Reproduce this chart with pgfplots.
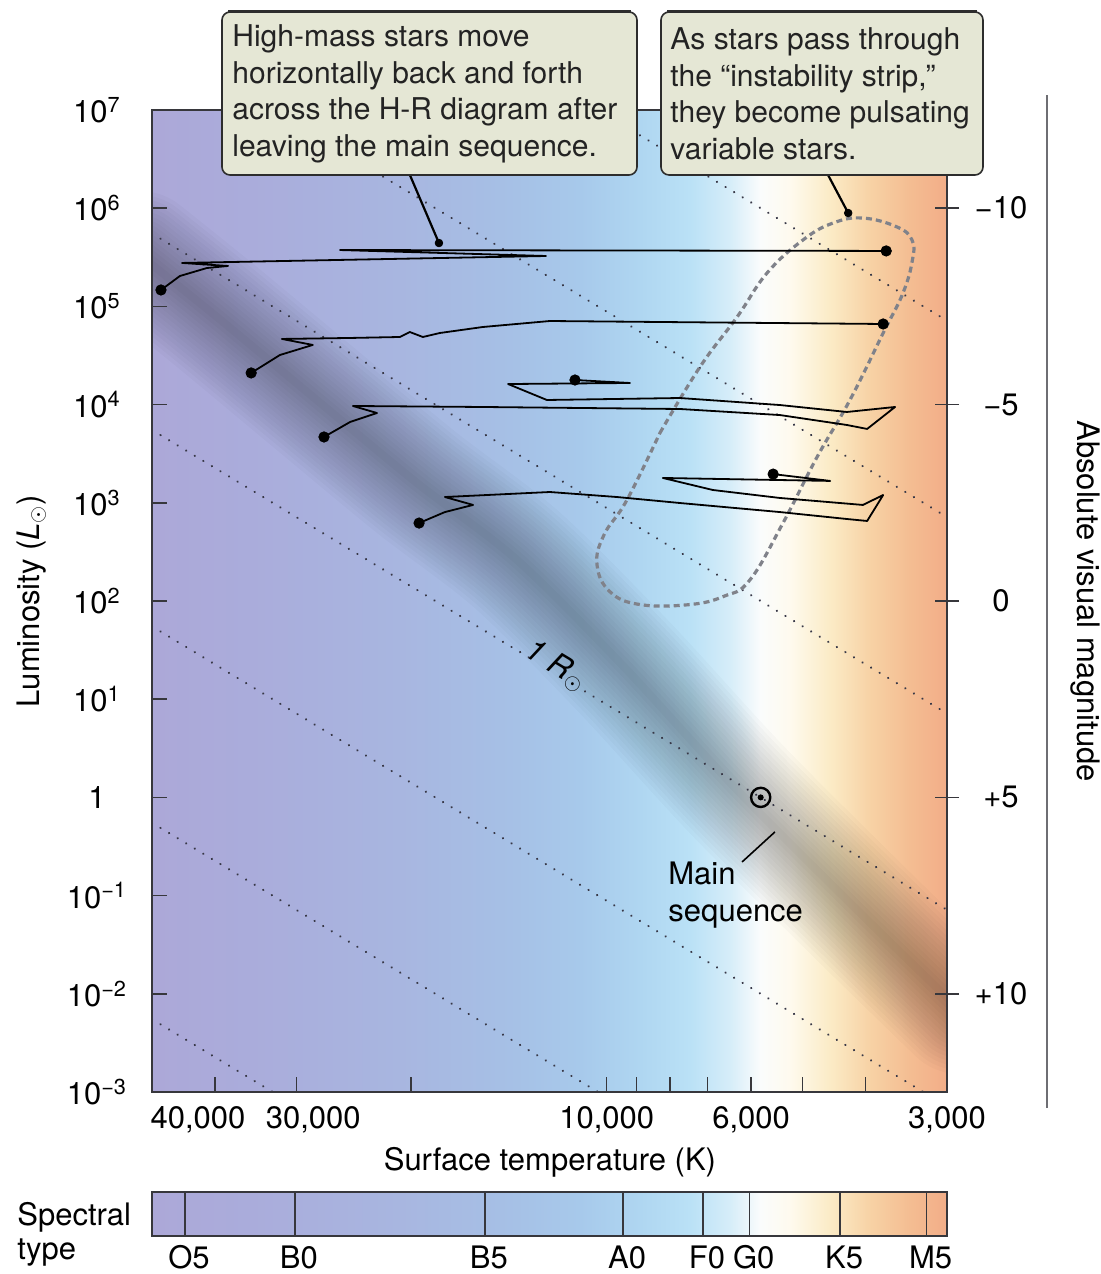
\documentclass[border=0pt]{standalone}
\usepackage{pgfplots}
\usepackage{pgfplotstable}
\pgfplotsset{compat=1.18}
\usepackage{fontspec}
\setmainfont{TeX Gyre Heros}
\newcommand\fs{\fontsize{15.5pt}{18.6pt}\selectfont}
\newcommand\fb{\fontsize{15pt}{18.25pt}\selectfont}
\definecolor{axisgray}{RGB}{55,55,60}
\definecolor{boxfill}{RGB}{229,231,213}
\definecolor{boxborder}{RGB}{45,45,45}
\definecolor{dotgray}{RGB}{55,55,70}
\definecolor{stripgray}{RGB}{128,130,138}
\definecolor{hrA}{RGB}{172,168,216}
\definecolor{hrB}{RGB}{170,172,219}
\definecolor{hrC}{RGB}{168,182,224}
\definecolor{hrD}{RGB}{166,191,229}
\definecolor{hrE}{RGB}{167,201,235}
\definecolor{hrF}{RGB}{175,214,241}
\definecolor{hrG}{RGB}{186,225,246}
\definecolor{hrH}{RGB}{214,237,249}
\definecolor{hrI}{RGB}{250,252,252}
\definecolor{hrJ}{RGB}{254,250,238}
\definecolor{hrK}{RGB}{251,235,198}
\definecolor{hrL}{RGB}{247,210,165}
\definecolor{hrM}{RGB}{244,189,146}
\definecolor{hrN}{RGB}{242,173,136}
\pgfdeclarehorizontalshading{hrbg}{100bp}{color(0bp)=(hrA); color(25bp)=(hrA); color(31.15bp)=(hrB); color(40.6bp)=(hrC); color(46.9bp)=(hrD); color(51.9bp)=(hrE); color(55.7bp)=(hrF); color(58.85bp)=(hrG); color(61.35bp)=(hrH); color(63.25bp)=(hrI); color(65.15bp)=(hrJ); color(67.65bp)=(hrK); color(70.15bp)=(hrL); color(72.65bp)=(hrM); color(75bp)=(hrN); color(100bp)=(hrN)}

\pgfplotstableread{
T L
52170 3.33e5
39730 7.80e4
27890 1.11e4
19570 1590
13740 262
9405 21.3
6305 1.19
4020 0.0605
2865 0.00684
}\bandtab

\pgfplotsset{
  radius/.style={dotgray, line width=1.2pt, dash pattern=on 0.01pt off 4.99pt, line cap=round},
  track/.style={black, line width=0.9pt, line join=round},
  band/.style={black, opacity=0.02, line cap=round, line join=round, smooth},
}

\begin{document}
\begin{tikzpicture}
\path[use as bounding box] (-76pt,-91pt) rectangle (474.5pt,546pt);
\begin{axis}[
  at={(0pt,0pt)}, anchor=south west,
  width=397.5pt, height=491pt, scale only axis,
  xmode=log, ymode=log,
  xmin=3000, xmax=50000, ymin=1e-3, ymax=1e7,
  x dir=reverse,
  axis on top,
  axis line style={draw=axisgray, line width=0.75pt},
  xtick={40000,30000,20000,10000,9000,8000,7000,6000,5000,4000,3000},
  xticklabels={{\hspace*{-17pt}40,000},{\hspace*{17pt}30,000},{},{10,000},{},{},{},{6,000},{},{},{3,000}},
  ytick={1e-3,1e-2,1e-1,1,1e1,1e2,1e3,1e4,1e5,1e6,1e7},
  yticklabels={10\textsuperscript{−3},10\textsuperscript{−2},10\textsuperscript{−1},1,10\textsuperscript{1},10\textsuperscript{2},10\textsuperscript{3},10\textsuperscript{4},10\textsuperscript{5},10\textsuperscript{6},10\textsuperscript{7}},
  xminorticks=false, yminorticks=false,
  tick align=inside, major tick length=7.5pt,
  tick style={draw=axisgray, line width=0.75pt},
  xtick pos=left, ytick pos=left,
  xticklabel style={anchor=center, yshift=-14pt, font=\fs},
  yticklabel style={anchor=center, xshift=-27.5pt, font=\fs},
  xlabel={Surface temperature (K)},
  ylabel={Luminosity (\textit{L}$_{\odot}$)},
  xlabel style={at={(axis description cs:0.5006,-0.0713)}, anchor=center, font=\fs},
  ylabel style={at={(axis description cs:-0.151,0.5)}, anchor=center, font=\fs},
]
\shade[shading=hrbg] (rel axis cs:0,0) rectangle (rel axis cs:1,1);
% main sequence band
\pgfplotsinvokeforeach{64,60,56,52,48,44,40,36,32,28,24,20,16,12,8,4}{
  \addplot[band, line width=#1pt] table[x=T,y=L] {\bandtab};
}
% lines of constant radius
\addplot[radius] coordinates {(50000,5.52e9) (3000,7.16e4)};
\addplot[radius] coordinates {(50000,5.52e7) (3000,716)};
\addplot[radius] coordinates {(50000,5.52e5) (3000,7.16)};
\addplot[radius] coordinates {(50000,5520) (13120,26.2)};
\addplot[radius] coordinates {(10800,12.0) (3000,0.0716)};
\addplot[radius] coordinates {(50000,55.2) (3000,7.16e-4)};
\addplot[radius] coordinates {(50000,0.552) (3000,7.16e-6)};
\addplot[radius] coordinates {(50000,5.52e-3) (3000,7.16e-8)};
% instability strip
\addplot[stripgray, line width=1.6pt, dash pattern=on 3pt off 2pt, smooth, tension=0.7] coordinates {
(8285,5140) (7190,2.42e4) (6305,7.80e4) (5670,2.19e5) (4995,4.74e5) (4490,7.06e5) (4040,7.94e5)
(3580,6.44e5) (3395,4.74e5) (3390,2.97e5) (3505,1.37e5) (3760,5.36e4) (4230,1.11e4) (4750,2930)
(5360,622) (6025,164) (6600,112) (7450,92) (8890,92) (9885,124) (10350,233) (10100,470) (9310,1069) (8285,5140)};
% evolutionary tracks
\addplot[track] coordinates {(48430,1.47e5) (45290,2.04e5) (41160,2.46e5) (38200,2.58e5) (44960,2.77e5) (12400,3.26e5) (25700,3.75e5) (3720,3.67e5)};
\addplot[track] coordinates {(35200,2.10e4) (31790,3.20e4) (28300,4.05e4) (31570,4.66e4) (24800,4.77e4) (20790,4.88e4) (20070,5.48e4) (19170,4.88e4) (18050,5.36e4) (15500,6.17e4) (12230,7.10e4) (3760,6.62e4)};
\addplot[track] coordinates {(27200,4680) (24800,6650) (22550,8210) (24550,9680) (15660,9460) (7720,9020) (5420,7830) (4275,6200) (3980,5650) (3605,9460) (4275,8410) (5420,9900) (7720,11670) (12360,11140) (14180,16200) (9210,16600) (11190,17800)};
\addplot[track] coordinates {(19430,622) (17730,805) (16050,951) (17730,1145) (12230,1288) (9645,1145) (7720,995) (5420,805) (4275,684) (3980,653) (3760,1200) (4040,951) (5420,1120) (6870,1350) (8200,1790) (4535,1670) (5550,1960)};
% track end points
\addplot[only marks, mark=*, mark size=2.6pt, black] coordinates {(48430,1.47e5) (35200,2.10e4) (27200,4680) (19430,622) (3720,3.67e5) (3760,6.62e4) (11190,17800) (5550,1960)};
% callout pointers
\addplot[black, line width=1.1pt] coordinates {(20070,2.18e6) (18110,4.42e5)};
\addplot[black, line width=1.1pt] coordinates {(4570,2.18e6) (4255,8.93e5)};
\addplot[only marks, mark=*, mark size=1.9pt, black] coordinates {(18110,4.42e5) (4255,8.93e5)};
% main sequence leader
\addplot[black, line width=0.8pt] coordinates {(6195,0.22) (5515,0.445)};
% Sun
\addplot[only marks, mark=o, mark size=4.8pt, mark options={draw=black, fill=white, line width=1.2pt}] coordinates {(5800,1)};
\addplot[only marks, mark=*, mark size=1.3pt, black] coordinates {(5800,1)};
\end{axis}

% right-hand magnitude axis
\begin{axis}[
  at={(0pt,0pt)}, anchor=south west,
  width=397.5pt, height=491pt, scale only axis,
  xmin=0, xmax=1, ymin=-12.5, ymax=12.5, y dir=reverse,
  axis x line=none, axis y line*=right,
  axis line style={draw=axisgray, line width=0.75pt},
  ytick={-10,-5,0,5,10},
  yticklabels={−10,−5,0,+5,+10},
  yminorticks=false,
  tick align=center, major tick length=12pt,
  tick style={draw=axisgray, line width=0.75pt},
  yticklabel style={anchor=center, xshift=21pt, font=\fs},
  ylabel={Absolute visual magnitude},
  ylabel style={at={(axis description cs:1.1736,0.5)}, anchor=center, rotate=180, font=\fs},
]
\addplot[draw=none] coordinates {(0.5,0)};
\end{axis}

% spectral type bar
\begin{axis}[
  at={(0pt,-72pt)}, anchor=south west,
  width=397.5pt, height=22pt, scale only axis,
  xmode=log, xmin=3000, xmax=50000, x dir=reverse,
  ymin=0, ymax=1, ytick=\empty,
  axis on top,
  axis line style={draw=axisgray, line width=0.75pt},
  xtick={44490,30150,15390,9440,7115,6030,4380,3225},
  xticklabels={O5,B0,B5,A0,F0,G0,K5,M5},
  xminorticks=false,
  major tick length=0pt,
  xmajorgrids, grid style={draw=axisgray, line width=0.7pt},
  xticklabel style={anchor=center, yshift=-10.5pt, xshift=2pt, font=\fs},
]
\shade[shading=hrbg] (rel axis cs:0,0) rectangle (rel axis cs:1,1);
\addplot[draw=none] coordinates {(5000,0.5)};
\end{axis}

% right-hand rule
\draw[color={rgb,255:red,110;green,110;blue,115}, line width=1pt] (447.5pt,-8pt) -- (447.5pt,498.5pt);

% spectral type label
\node[anchor=west, align=left, inner sep=0pt, font=\fontsize{15.5pt}{17pt}\selectfont] at (-67.5pt,-71.25pt) {Spectral\\type};

% annotations
\node[rotate=-31, font=\fs, inner sep=1pt] at (202pt,213pt) {\textit{1 R}$_{\odot}$};
\node[anchor=west, align=left, inner sep=0pt, font=\fs] at (258pt,98.5pt) {Main\\sequence};

% callout boxes
\draw[fill=boxfill, draw=boxborder, line width=0.8pt, rounded corners=4pt] (35pt,458.5pt) rectangle (242.5pt,540pt);
\draw[boxborder, line width=1.6pt] (38pt,540.4pt) -- (239.5pt,540.4pt);
\node[anchor=west, align=left, inner sep=0pt, font=\fb, text={rgb,255:red,35;green,35;blue,35}] at (40pt,499pt)
  {High-mass stars move\\horizontally back and forth\\across the H-R diagram after\\leaving the main sequence.};
\draw[fill=boxfill, draw=boxborder, line width=0.8pt, rounded corners=4pt] (254.5pt,458.5pt) rectangle (415.5pt,540pt);
\draw[boxborder, line width=1.6pt] (257.5pt,540.4pt) -- (412.5pt,540.4pt);
\node[anchor=west, align=left, inner sep=0pt, font=\fb, text={rgb,255:red,35;green,35;blue,35}] at (259pt,499pt)
  {As stars pass through\\the “instability strip,”\\they become pulsating\\variable stars.};
\end{tikzpicture}
\end{document}
